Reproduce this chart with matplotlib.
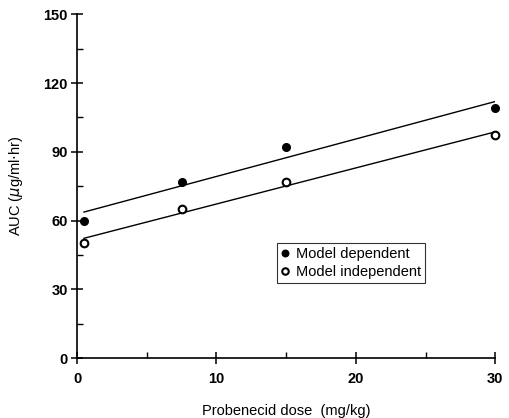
import numpy as np
import matplotlib
matplotlib.use("Agg")
import matplotlib.pyplot as plt
from matplotlib.ticker import MultipleLocator

plt.rcParams['font.family'] = ['Liberation Sans', 'DejaVu Sans']

# Dosis probenecidu (mg/kg) i AUC
dose = [0.5, 7.5, 15, 30]
auc_dependent = [60, 77, 92, 109.3]
auc_independent = [50, 65, 77, 97.4]


def fit_line(x, y):
    """Prosta regresji dla serii."""
    slope, intercept = np.polyfit(x, y, 1)
    xs = np.array([min(x), max(x)])
    return xs, slope * xs + intercept


def main():
    fig = plt.figure(figsize=(5.1, 4.18), dpi=100)
    ax = fig.add_axes([0.151, 0.1435, 0.820, 0.822])

    for y in (auc_dependent, auc_independent):
        xs, ys = fit_line(dose, y)
        ax.plot(xs, ys, color='black', linewidth=1.0)

    ax.plot(dose, auc_dependent, 'o', color='black', markersize=5.5,
            clip_on=False, label='Model dependent')
    ax.plot(dose, auc_independent, 'o', markerfacecolor='white',
            markeredgecolor='black', markeredgewidth=1.5, markersize=5.5,
            clip_on=False, label='Model independent')

    ax.set_xlim(0, 30)
    ax.set_ylim(0, 150)
    ax.xaxis.set_major_locator(MultipleLocator(10))
    ax.xaxis.set_minor_locator(MultipleLocator(5))
    ax.yaxis.set_major_locator(MultipleLocator(30))
    ax.yaxis.set_minor_locator(MultipleLocator(15))

    for side in ('top', 'right'):
        ax.spines[side].set_visible(False)
    for side in ('left', 'bottom'):
        ax.spines[side].set_linewidth(1.2)

    ax.tick_params(which='major', direction='inout', length=8, width=1.1,
                   labelsize=10.5)
    ax.tick_params(axis='x', which='major', pad=6)
    ax.tick_params(axis='y', which='major', pad=2.5)
    ax.tick_params(which='minor', direction='in', length=4, width=1.0)
    for lab in ax.get_xticklabels() + ax.get_yticklabels():
        lab.set_fontweight('bold')

    ax.set_xlabel('Probenecid dose  (mg/kg)', fontsize=10.5, labelpad=13)
    ax.set_ylabel('AUC ($\\mu$g/ml$\\cdot$hr)', fontsize=10.5)
    ax.yaxis.set_label_coords(-0.124, 0.5)

    leg = ax.legend(loc='upper left', bbox_to_anchor=(0.478, 0.335),
                    fontsize=10.5, frameon=True, fancybox=False,
                    handlelength=0.5, handletextpad=0.5, borderpad=0.3,
                    labelspacing=0.25, borderaxespad=0, markerscale=0.85)
    leg.get_frame().set_edgecolor('black')
    leg.get_frame().set_linewidth(0.8)

    fig.savefig('out.png', dpi=100)


if __name__ == "__main__":
    main()
